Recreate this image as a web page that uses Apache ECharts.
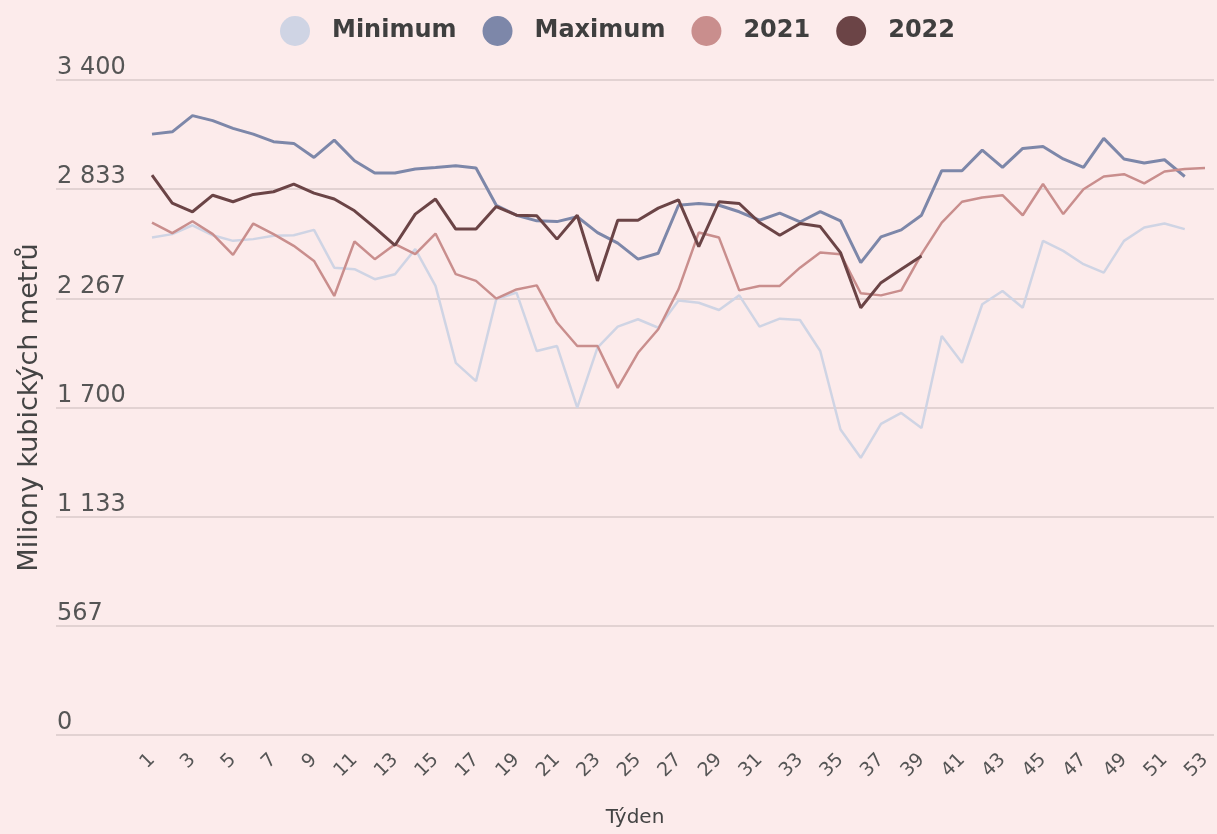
<!DOCTYPE html>
<html>
<head>
<meta charset="utf-8">
<script src="https://cdn.jsdelivr.net/npm/echarts@6/dist/echarts.min.js"></script>
<style>
  html, body { margin: 0; padding: 0; background: #fcebeb; }
  #chart { width: 1217px; height: 834px; }
</style>
</head>
<body>
<div id="chart"></div>
<script>
// Weekly natural gas consumption, millions of cubic metres
const weeks = [1,2,3,4,5,6,7,8,9,10,11,12,13,14,15,16,17,18,19,20,21,22,23,24,25,26,27,28,29,30,31,32,33,34,35,36,37,38,39,40,41,42,43,44,45,46,47,48,49,50,51,52,53];

const minimum = [2582,2600,2646,2594,2565,2574,2591,2594,2622,2426,2418,2366,2392,2522,2331,1932,1837,2262,2296,1993,2019,1699,2011,2120,2158,2114,2256,2244,2206,2282,2120,2161,2154,1993,1586,1439,1615,1672,1594,2071,1932,2236,2305,2218,2565,2513,2444,2400,2565,2634,2655,2626];

const maximum = [3119,3131,3215,3189,3149,3119,3080,3071,2998,3088,2981,2917,2917,2938,2946,2955,2943,2750,2698,2669,2665,2690,2608,2553,2470,2501,2750,2759,2750,2716,2672,2709,2663,2717,2669,2452,2586,2622,2698,2929,2929,3036,2946,3045,3055,2990,2946,3097,2990,2969,2986,2899];

const y2021 = [2660,2605,2667,2600,2492,2655,2600,2539,2461,2279,2562,2470,2548,2496,2603,2392,2357,2265,2313,2334,2141,2019,2019,1802,1984,2106,2313,2608,2582,2308,2331,2331,2426,2504,2496,2293,2282,2308,2496,2660,2768,2790,2802,2698,2860,2704,2833,2899,2911,2863,2925,2938,2943];

const y2022 = [2906,2761,2716,2802,2768,2806,2820,2860,2813,2782,2721,2634,2542,2704,2782,2626,2626,2743,2698,2695,2574,2698,2357,2672,2672,2735,2778,2535,2768,2759,2660,2594,2655,2639,2504,2218,2348,2418,2487];

const yTickLabels = ['0', '567', '1 133', '1 700', '2 267', '2 833', '3 400'];
const yMax = 3400;
const yStep = yMax / 6;

const seriesNames = ['Minimum', 'Maximum', '2021', '2022'];
const seriesColors = ['#cfd4e4', '#7d87a9', '#c98e8d', '#6b4446'];
const seriesWidths = [2.5, 3, 2.5, 3];
const seriesData = [minimum, maximum, y2021, y2022];

const font = '"DejaVu Sans", Verdana, sans-serif';
const chart = echarts.init(document.getElementById('chart'));

chart.setOption({
  backgroundColor: '#fcebeb',
  animation: false,
  textStyle: { fontFamily: font },
  legend: {
    top: 11,
    left: 275,
    icon: 'circle',
    itemWidth: 30,
    itemHeight: 30,
    itemGap: 26,
    textStyle: {
      fontFamily: font, fontWeight: 'bold', fontSize: 24, color: '#3f3f3f',
      padding: [0, 0, 0, 17]
    },
    data: seriesNames
  },
  grid: [
    // full-width frame carrying the gridlines and value labels
    { left: 56, right: 3, top: 80, bottom: 99 },
    // plotting area for the weekly lines
    { left: 152, right: 12, top: 80, bottom: 99 }
  ],
  xAxis: [
    {
      gridIndex: 0, type: 'value', min: 0, max: 1,
      axisLine: { show: false }, axisTick: { show: false },
      axisLabel: { show: false }, splitLine: { show: false },
      name: 'Týden', nameLocation: 'middle', nameGap: 73,
      nameTextStyle: { fontFamily: font, fontSize: 20, color: '#444' }
    },
    {
      gridIndex: 1, type: 'category', data: weeks, boundaryGap: false,
      axisLine: { show: false }, axisTick: { show: false },
      axisLabel: {
        interval: 1, rotate: 45, margin: 22,
        fontFamily: font, fontSize: 19, color: '#555'
      }
    }
  ],
  yAxis: [
    {
      gridIndex: 0, type: 'value', min: 0, max: yMax, interval: yStep,
      axisLine: { show: false }, axisTick: { show: false },
      axisLabel: {
        inside: true, margin: 1, verticalAlign: 'bottom', align: 'left',
        fontFamily: font, fontSize: 24, color: '#555',
        formatter: v => yTickLabels[Math.round(v / yStep)]
      },
      splitLine: { lineStyle: { color: '#e2d2d2', width: 2 } },
      name: 'Miliony kubických metrů', nameLocation: 'middle', nameGap: 13,
      nameRotate: 90,
      nameTextStyle: { fontFamily: font, fontSize: 27, color: '#444' }
    },
    {
      gridIndex: 1, type: 'value', min: 0, max: yMax, interval: yStep,
      show: false, splitLine: { show: false }
    }
  ],
  series: seriesNames.map((name, i) => ({
    name: name,
    type: 'line',
    xAxisIndex: 1,
    yAxisIndex: 1,
    data: seriesData[i],
    showSymbol: false,
    symbol: 'circle',
    color: seriesColors[i],
    lineStyle: { color: seriesColors[i], width: seriesWidths[i] },
    z: 2 + i
  }))
});
</script>
</body>
</html>
